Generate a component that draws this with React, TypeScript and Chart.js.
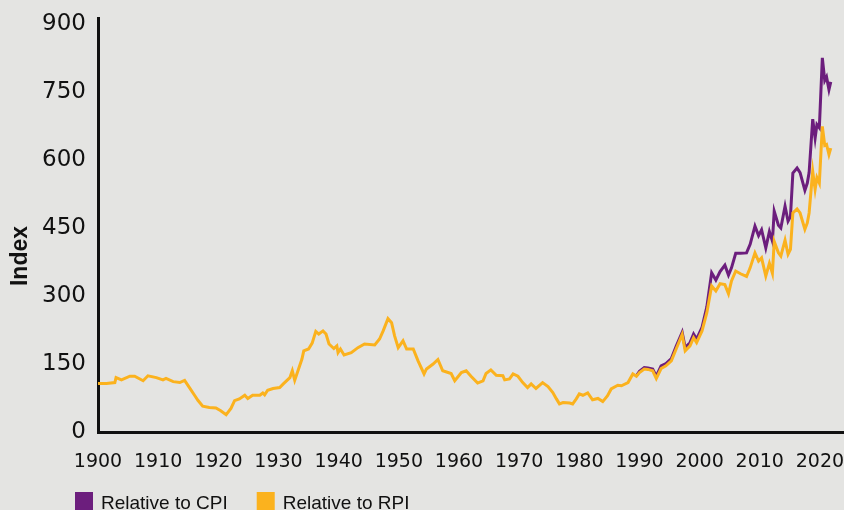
import React, { useEffect, useRef } from "react";
import { Chart, registerables } from "chart.js";

Chart.register(...registerables);

// ---- Data ----
const rpiYears = [
  1900, 1901.4, 1902.8, 1903.0, 1903.9, 1905.3, 1906.1, 1907.5, 1908.3, 1909.7,
  1910.8, 1911.3, 1912.5, 1913.6, 1914.4, 1915.2, 1916.1, 1916.6, 1917.4, 1918.5,
  1919.6, 1920.4, 1921.3, 1922.1, 1922.7, 1923.5, 1924.4, 1924.9, 1925.7, 1926.9,
  1927.4, 1927.7, 1928.2, 1929.1, 1930.2, 1930.8, 1931.9, 1932.3, 1932.7, 1933.9,
  1934.2, 1935.0, 1935.6, 1936.2, 1936.7, 1937.4, 1937.9, 1938.4, 1939.2, 1939.7,
  1939.9, 1940.3, 1940.9, 1942.1, 1943.2, 1944.3, 1946.0, 1946.8, 1947.4, 1948.2,
  1948.8, 1949.3, 1949.9, 1950.7, 1951.3, 1952.4, 1953.2, 1954.2, 1954.6, 1955.7,
  1956.5, 1957.3, 1958.7, 1959.3, 1960.4, 1961.2, 1962.0, 1963.1, 1964.0, 1964.5,
  1965.3, 1966.2, 1967.3, 1967.6, 1968.4, 1969.0, 1969.8, 1970.6, 1971.4, 1972.0,
  1972.8, 1973.9, 1974.8, 1975.6, 1976.2, 1976.7, 1977.3, 1978.4, 1978.9, 1979.5,
  1980.0, 1980.6, 1981.4, 1982.2, 1983.1, 1983.9, 1984.7, 1985.3, 1986.4, 1987.0,
  1988.1, 1988.9,
  1989.5, 1990.0, 1990.8, 1991.4, 1992.2, 1992.8, 1993.6, 1994.4, 1995.3, 1996.1,
  1997.1, 1997.6, 1998.4, 1999.0, 1999.5, 2000.4, 2001.2, 2002.0, 2002.7, 2003.4,
  2004.2, 2004.8, 2005.3, 2006.0, 2006.8, 2007.8, 2008.4, 2009.2, 2009.8, 2010.3,
  2011.0, 2011.6, 2012.1, 2012.4, 2013.1, 2013.5, 2014.2, 2014.7, 2015.1, 2015.5,
  2016.2, 2016.7, 2017.5, 2017.9, 2018.2, 2018.8, 2019.2, 2019.5, 2019.9, 2020.4,
  2020.8, 2021.1, 2021.5, 2021.8,
];

const rpiValues = [
  107, 107, 109, 120, 115, 123, 123, 113, 124, 120,
  115, 118, 111, 109, 114, 98, 80, 70, 57, 54,
  53, 47, 38, 52, 69, 73, 81, 74, 81, 81,
  86, 82, 92, 96, 98, 106, 120, 135, 114, 161,
  179, 183, 196, 222, 216, 223, 216, 194, 184, 190,
  175, 183, 170, 175, 186, 194, 192, 205, 223, 250,
  241, 212, 186, 201, 183, 183, 157, 128, 139, 150,
  160, 135, 129, 113, 131, 135, 123, 108, 113, 129,
  137, 125, 124, 115, 117, 128, 123, 109, 98, 106,
  96, 109, 100, 87, 73, 62, 65, 64, 62, 73,
  84, 81, 86, 71, 74, 67, 80, 95, 103, 102,
  109, 128,
  123, 131, 139, 138, 135, 118, 140, 146, 157, 183,
  215, 179, 190, 208, 197, 223, 263, 322, 311, 327,
  325, 305, 333, 355, 349, 343, 362, 395, 377, 384,
  344, 372, 350, 420, 395, 388, 423, 392, 403, 483,
  492, 483, 447, 461, 483, 575, 535, 561, 549, 674,
  632, 634, 612, 626,
];

const cpiYears = [
  1989.5, 1990.0, 1990.8, 1991.4, 1992.2, 1992.8, 1993.6, 1994.4, 1995.3, 1996.1,
  1997.1, 1997.6, 1998.4, 1999.0, 1999.5, 2000.4, 2001.2, 2002.0, 2002.7, 2003.4,
  2004.2, 2004.8, 2005.3, 2006.0, 2006.8, 2007.8, 2008.4, 2009.2, 2009.8, 2010.3,
  2011.0, 2011.6, 2012.1, 2012.4, 2013.1, 2013.5, 2014.2, 2014.7, 2015.1, 2015.5,
  2016.2, 2016.7, 2017.5, 2017.9, 2018.2, 2018.8, 2019.2, 2019.5, 2019.9, 2020.4,
  2020.8, 2021.1, 2021.5, 2021.8,
];

const cpiValues = [
  124, 134, 142, 141, 139, 123, 146, 151, 162, 189,
  220, 186, 197, 216, 205, 231, 276, 351, 335, 354,
  368, 346, 362, 394, 394, 395, 414, 454, 433, 446,
  406, 442, 421, 487, 456, 450, 498, 465, 475, 571,
  582, 572, 533, 549, 572, 690, 648, 678, 671, 825,
  775, 783, 755, 772,
];

const xTickValues = [1900, 1910, 1920, 1930, 1940, 1950, 1960, 1970, 1980, 1990, 2000, 2010, 2020];
const yTickValues = [0, 150, 300, 450, 600, 750, 900];
const seriesLabels = ["Relative to CPI", "Relative to RPI"];
const yAxisTitle = "Index";

const PURPLE = "#6c1e7d";
const YELLOW = "#fbb21e";
const INK = "#111111";
const BG = "#e4e4e2";
const FONT = "'Liberation Sans', Arial, Helvetica, sans-serif";
const TICK_FONT = "'DejaVu Sans', 'Liberation Sans', sans-serif";

const overlayPlugin = {
  id: "overlay",
  afterDraw(chart: any) {
    const ctx = chart.ctx as CanvasRenderingContext2D;
    // Y axis title
    ctx.save();
    ctx.translate(21, 256);
    ctx.rotate(-Math.PI / 2);
    ctx.font = `bold 23px ${FONT}`;
    ctx.fillStyle = INK;
    ctx.textAlign = "center";
    ctx.textBaseline = "middle";
    ctx.fillText(yAxisTitle, 0, 0);
    ctx.restore();

    // Legend
    ctx.save();
    ctx.font = `19px ${FONT}`;
    ctx.textAlign = "left";
    ctx.textBaseline = "alphabetic";
    const colors = [PURPLE, YELLOW];
    let x = 75;
    seriesLabels.forEach((label, i) => {
      ctx.fillStyle = colors[i];
      ctx.fillRect(x, 492, 18, 22);
      ctx.fillStyle = INK;
      ctx.fillText(label, x + 26, 509);
      const w = ctx.measureText(label).width;
      x = x + 26 + w + 29;
    });
    ctx.restore();
  },
};

export default function App() {
  const canvasRef = useRef<HTMLCanvasElement | null>(null);

  useEffect(() => {
    const canvas = canvasRef.current;
    if (!canvas) return;
    const chart = new Chart(canvas, {
      type: "line",
      data: {
        datasets: [
          {
            label: seriesLabels[0],
            data: cpiYears.map((x, i) => ({ x, y: cpiValues[i] })),
            borderColor: PURPLE,
            backgroundColor: PURPLE,
            borderWidth: 3,
            pointRadius: 0,
            tension: 0,
            order: 1,
          },
          {
            label: seriesLabels[1],
            data: rpiYears.map((x, i) => ({ x, y: rpiValues[i] })),
            borderColor: YELLOW,
            backgroundColor: YELLOW,
            borderWidth: 3,
            pointRadius: 0,
            tension: 0,
            order: 0,
          },
        ],
      },
      options: {
        responsive: false,
        animation: false,
        devicePixelRatio: 1,
        layout: { padding: { top: 18, left: 0, right: 0, bottom: 0 } },
        plugins: {
          legend: { display: false },
          tooltip: { enabled: false },
        },
        scales: {
          x: {
            type: "linear",
            min: 1900,
            max: 2024,
            grid: { display: false, drawTicks: false },
            border: { display: true, color: INK, width: 3 },
            afterBuildTicks: (scale: any) => {
              scale.ticks = xTickValues.map((v) => ({ value: v }));
            },
            afterFit: (scale: any) => {
              scale.height = 78;
              scale.paddingLeft = 0;
              scale.paddingRight = 0;
            },
            ticks: {
              color: INK,
              padding: 19,
              maxRotation: 0,
              autoSkip: false,
              font: { family: TICK_FONT, size: 19 },
              callback: (v: any) => String(v),
            },
          },
          y: {
            type: "linear",
            min: 0,
            max: 913,
            grid: { display: false, drawTicks: false },
            border: { display: true, color: INK, width: 3 },
            afterBuildTicks: (scale: any) => {
              scale.ticks = yTickValues.map((v) => ({ value: v }));
            },
            afterFit: (scale: any) => {
              scale.width = 98;
              scale.paddingTop = 0;
              scale.paddingBottom = 0;
            },
            ticks: {
              color: INK,
              padding: 12,
              autoSkip: false,
              font: { family: TICK_FONT, size: 23 },
              callback: (v: any) => String(v),
            },
          },
        },
      },
      plugins: [overlayPlugin],
    });
    return () => chart.destroy();
  }, []);

  return (
    <div
      style={{
        position: "fixed",
        left: 0,
        top: 0,
        width: 844,
        height: 510,
        background: BG,
        overflow: "hidden",
      }}
    >
      <canvas ref={canvasRef} width={844} height={510} style={{ display: "block" }} />
    </div>
  );
}
